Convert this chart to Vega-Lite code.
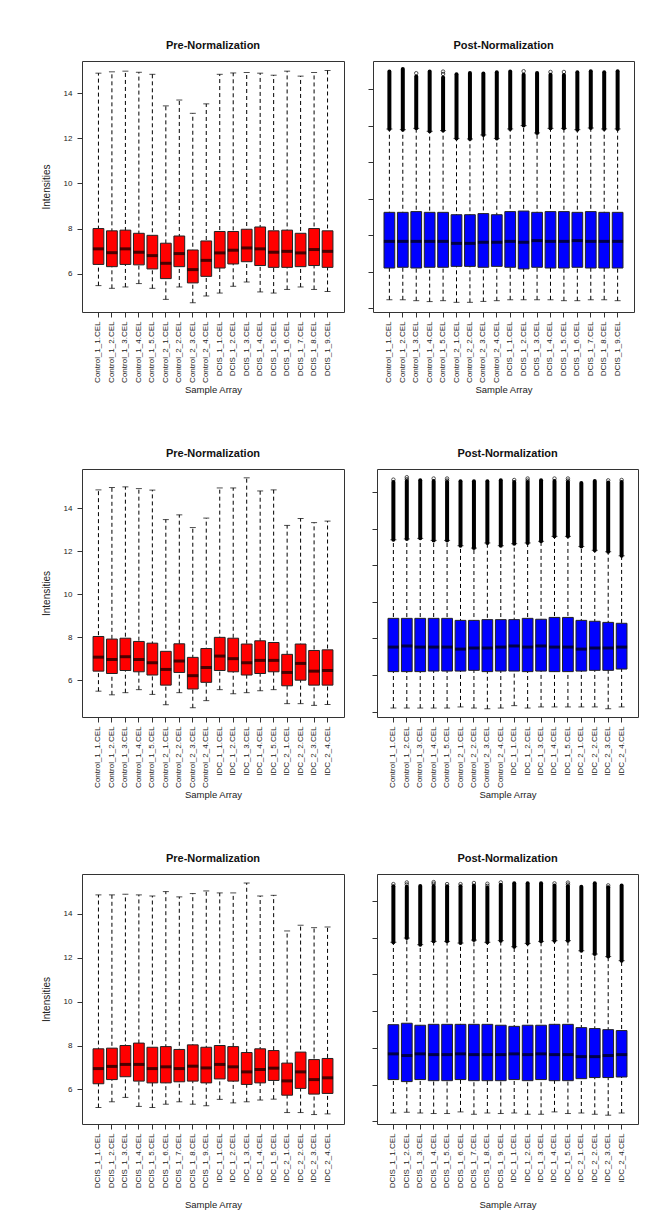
{
  "$schema": "https://vega.github.io/schema/vega-lite/v6.json",
  "padding": {"left": 40, "top": 39, "right": 0, "bottom": 0},
  "background": "white",
  "config": {
    "font": "Liberation Sans",
    "view": {"stroke": "#333", "strokeWidth": 1},
    "axis": {"grid": false, "domain": false, "tickColor": "#333", "tickSize": 5, "labelColor": "#222", "titleColor": "#222", "labelFont": "Liberation Sans", "titleFont": "Liberation Sans", "labelFontSize": 8, "titleFontSize": 9.5, "titleFontWeight": "normal"},
    "axisX": {"labelAngle": -90, "labelPadding": 4, "titlePadding": 2},
    "axisY": {"labelAngle": 0, "labelPadding": 5, "titlePadding": 12, "titleFontSize": 10},
    "title": {"fontSize": 11, "fontWeight": "bold", "offset": 10, "frame": "group", "anchor": "middle", "color": "#111", "font": "Liberation Sans"}
  },
  "datasets": {
    "pre1": [
      {"s": "Control_1_1.CEL", "lw": 5.47, "q1": 6.41, "med": 7.10, "q3": 8.00, "uw": 14.89},
      {"s": "Control_1_2.CEL", "lw": 5.35, "q1": 6.31, "med": 6.93, "q3": 7.90, "uw": 14.95},
      {"s": "Control_1_3.CEL", "lw": 5.41, "q1": 6.41, "med": 7.10, "q3": 7.93, "uw": 14.98},
      {"s": "Control_1_4.CEL", "lw": 5.56, "q1": 6.39, "med": 6.95, "q3": 7.79, "uw": 14.93},
      {"s": "Control_1_5.CEL", "lw": 5.35, "q1": 6.21, "med": 6.80, "q3": 7.70, "uw": 14.84},
      {"s": "Control_2_1.CEL", "lw": 4.86, "q1": 5.78, "med": 6.46, "q3": 7.35, "uw": 13.44},
      {"s": "Control_2_2.CEL", "lw": 5.41, "q1": 6.31, "med": 6.89, "q3": 7.67, "uw": 13.70},
      {"s": "Control_2_3.CEL", "lw": 4.71, "q1": 5.59, "med": 6.18, "q3": 7.05, "uw": 13.11},
      {"s": "Control_2_4.CEL", "lw": 5.01, "q1": 5.88, "med": 6.59, "q3": 7.45, "uw": 13.53},
      {"s": "DCIS_1_1.CEL", "lw": 5.14, "q1": 6.25, "med": 6.92, "q3": 7.87, "uw": 14.84},
      {"s": "DCIS_1_2.CEL", "lw": 5.44, "q1": 6.43, "med": 7.04, "q3": 7.87, "uw": 14.90},
      {"s": "DCIS_1_3.CEL", "lw": 5.63, "q1": 6.53, "med": 7.14, "q3": 7.97, "uw": 14.92},
      {"s": "DCIS_1_4.CEL", "lw": 5.19, "q1": 6.36, "med": 7.10, "q3": 8.07, "uw": 14.89},
      {"s": "DCIS_1_5.CEL", "lw": 5.14, "q1": 6.28, "med": 6.95, "q3": 7.90, "uw": 14.80},
      {"s": "DCIS_1_6.CEL", "lw": 5.30, "q1": 6.28, "med": 6.99, "q3": 7.93, "uw": 14.98},
      {"s": "DCIS_1_7.CEL", "lw": 5.41, "q1": 6.31, "med": 6.92, "q3": 7.79, "uw": 14.76},
      {"s": "DCIS_1_8.CEL", "lw": 5.30, "q1": 6.36, "med": 7.07, "q3": 8.00, "uw": 14.92},
      {"s": "DCIS_1_9.CEL", "lw": 5.21, "q1": 6.28, "med": 6.99, "q3": 7.90, "uw": 15.01}
    ],
    "post1": [
      {"s": "Control_1_1.CEL", "lw": 2.47, "q1": 4.21, "med": 5.67, "q3": 7.26, "uw": 11.83, "ohi": 14.97},
      {"s": "Control_1_2.CEL", "lw": 2.47, "q1": 4.25, "med": 5.67, "q3": 7.26, "uw": 11.79, "ohi": 15.11},
      {"s": "Control_1_3.CEL", "lw": 2.42, "q1": 4.21, "med": 5.67, "q3": 7.30, "uw": 11.86, "ohi": 14.70, "c1": 14.88},
      {"s": "Control_1_4.CEL", "lw": 2.37, "q1": 4.25, "med": 5.67, "q3": 7.26, "uw": 11.70, "ohi": 14.97},
      {"s": "Control_1_5.CEL", "lw": 2.42, "q1": 4.25, "med": 5.67, "q3": 7.26, "uw": 11.74, "ohi": 14.65, "c1": 14.97, "c2": 14.84},
      {"s": "Control_2_1.CEL", "lw": 2.33, "q1": 4.30, "med": 5.56, "q3": 7.13, "uw": 11.31, "ohi": 14.82},
      {"s": "Control_2_2.CEL", "lw": 2.33, "q1": 4.30, "med": 5.56, "q3": 7.13, "uw": 11.28, "ohi": 14.89},
      {"s": "Control_2_3.CEL", "lw": 2.38, "q1": 4.25, "med": 5.62, "q3": 7.19, "uw": 11.50, "ohi": 14.86},
      {"s": "Control_2_4.CEL", "lw": 2.42, "q1": 4.30, "med": 5.62, "q3": 7.13, "uw": 11.31, "ohi": 14.93},
      {"s": "DCIS_1_1.CEL", "lw": 2.47, "q1": 4.25, "med": 5.67, "q3": 7.30, "uw": 11.83, "ohi": 14.97},
      {"s": "DCIS_1_2.CEL", "lw": 2.47, "q1": 4.16, "med": 5.62, "q3": 7.33, "uw": 12.01, "ohi": 14.80, "c1": 14.99},
      {"s": "DCIS_1_3.CEL", "lw": 2.47, "q1": 4.25, "med": 5.71, "q3": 7.26, "uw": 11.61, "ohi": 14.89},
      {"s": "DCIS_1_4.CEL", "lw": 2.47, "q1": 4.21, "med": 5.67, "q3": 7.30, "uw": 11.86, "ohi": 14.80, "c1": 14.95},
      {"s": "DCIS_1_5.CEL", "lw": 2.42, "q1": 4.21, "med": 5.67, "q3": 7.30, "uw": 11.86, "ohi": 14.78, "c1": 14.95},
      {"s": "DCIS_1_6.CEL", "lw": 2.42, "q1": 4.25, "med": 5.71, "q3": 7.26, "uw": 11.79, "ohi": 14.93},
      {"s": "DCIS_1_7.CEL", "lw": 2.47, "q1": 4.21, "med": 5.67, "q3": 7.30, "uw": 11.88, "ohi": 14.99},
      {"s": "DCIS_1_8.CEL", "lw": 2.47, "q1": 4.21, "med": 5.67, "q3": 7.26, "uw": 11.83, "ohi": 14.93},
      {"s": "DCIS_1_9.CEL", "lw": 2.42, "q1": 4.21, "med": 5.67, "q3": 7.26, "uw": 11.83, "ohi": 14.99}
    ],
    "pre2": [
      {"s": "Control_1_1.CEL", "lw": 5.50, "q1": 6.43, "med": 7.08, "q3": 8.04, "uw": 14.85},
      {"s": "Control_1_2.CEL", "lw": 5.33, "q1": 6.32, "med": 6.97, "q3": 7.92, "uw": 14.96},
      {"s": "Control_1_3.CEL", "lw": 5.43, "q1": 6.46, "med": 7.10, "q3": 7.96, "uw": 14.99},
      {"s": "Control_1_4.CEL", "lw": 5.57, "q1": 6.40, "med": 6.97, "q3": 7.81, "uw": 14.91},
      {"s": "Control_1_5.CEL", "lw": 5.35, "q1": 6.25, "med": 6.82, "q3": 7.73, "uw": 14.84},
      {"s": "Control_2_1.CEL", "lw": 4.87, "q1": 5.78, "med": 6.51, "q3": 7.35, "uw": 13.47},
      {"s": "Control_2_2.CEL", "lw": 5.43, "q1": 6.37, "med": 6.90, "q3": 7.70, "uw": 13.69},
      {"s": "Control_2_3.CEL", "lw": 4.73, "q1": 5.60, "med": 6.22, "q3": 7.07, "uw": 13.10},
      {"s": "Control_2_4.CEL", "lw": 5.06, "q1": 5.91, "med": 6.60, "q3": 7.48, "uw": 13.54},
      {"s": "IDC_1_1.CEL", "lw": 5.57, "q1": 6.46, "med": 7.13, "q3": 8.00, "uw": 14.94},
      {"s": "IDC_1_2.CEL", "lw": 5.38, "q1": 6.40, "med": 7.01, "q3": 7.96, "uw": 14.94},
      {"s": "IDC_1_3.CEL", "lw": 5.43, "q1": 6.25, "med": 6.82, "q3": 7.69, "uw": 15.41},
      {"s": "IDC_1_4.CEL", "lw": 5.52, "q1": 6.32, "med": 6.93, "q3": 7.84, "uw": 14.80},
      {"s": "IDC_1_5.CEL", "lw": 5.57, "q1": 6.40, "med": 6.93, "q3": 7.76, "uw": 14.85},
      {"s": "IDC_2_1.CEL", "lw": 4.92, "q1": 5.75, "med": 6.37, "q3": 7.21, "uw": 13.20},
      {"s": "IDC_2_2.CEL", "lw": 4.92, "q1": 6.01, "med": 6.79, "q3": 7.69, "uw": 13.52},
      {"s": "IDC_2_3.CEL", "lw": 4.84, "q1": 5.78, "med": 6.43, "q3": 7.39, "uw": 13.33},
      {"s": "IDC_2_4.CEL", "lw": 4.88, "q1": 5.78, "med": 6.46, "q3": 7.42, "uw": 13.40}
    ],
    "post2": [
      {"s": "Control_1_1.CEL", "lw": 2.20, "q1": 4.19, "med": 5.53, "q3": 7.10, "uw": 11.40, "ohi": 14.55, "c1": 14.68},
      {"s": "Control_1_2.CEL", "lw": 2.20, "q1": 4.19, "med": 5.59, "q3": 7.10, "uw": 11.44, "ohi": 14.60, "c1": 14.81, "c2": 14.70},
      {"s": "Control_1_3.CEL", "lw": 2.20, "q1": 4.19, "med": 5.53, "q3": 7.10, "uw": 11.47, "ohi": 14.64},
      {"s": "Control_1_4.CEL", "lw": 2.20, "q1": 4.22, "med": 5.53, "q3": 7.10, "uw": 11.36, "ohi": 14.60, "c1": 14.74},
      {"s": "Control_1_5.CEL", "lw": 2.20, "q1": 4.22, "med": 5.53, "q3": 7.10, "uw": 11.36, "ohi": 14.55, "c1": 14.74, "c2": 14.63},
      {"s": "Control_2_1.CEL", "lw": 2.26, "q1": 4.22, "med": 5.42, "q3": 6.99, "uw": 11.07, "ohi": 14.59},
      {"s": "Control_2_2.CEL", "lw": 2.20, "q1": 4.26, "med": 5.48, "q3": 6.99, "uw": 10.94, "ohi": 14.59},
      {"s": "Control_2_3.CEL", "lw": 2.16, "q1": 4.19, "med": 5.48, "q3": 7.03, "uw": 11.22, "ohi": 14.59},
      {"s": "Control_2_4.CEL", "lw": 2.20, "q1": 4.22, "med": 5.53, "q3": 7.03, "uw": 11.07, "ohi": 14.64},
      {"s": "IDC_1_1.CEL", "lw": 2.33, "q1": 4.22, "med": 5.59, "q3": 7.03, "uw": 11.18, "ohi": 14.55, "c1": 14.66},
      {"s": "IDC_1_2.CEL", "lw": 2.20, "q1": 4.19, "med": 5.53, "q3": 7.10, "uw": 11.22, "ohi": 14.55, "c1": 14.74, "c2": 14.63},
      {"s": "IDC_1_3.CEL", "lw": 2.26, "q1": 4.22, "med": 5.59, "q3": 7.05, "uw": 11.31, "ohi": 14.64},
      {"s": "IDC_1_4.CEL", "lw": 2.26, "q1": 4.19, "med": 5.53, "q3": 7.15, "uw": 11.58, "ohi": 14.60, "c1": 14.74},
      {"s": "IDC_1_5.CEL", "lw": 2.26, "q1": 4.19, "med": 5.53, "q3": 7.15, "uw": 11.58, "ohi": 14.55, "c1": 14.74, "c2": 14.63},
      {"s": "IDC_2_1.CEL", "lw": 2.26, "q1": 4.22, "med": 5.42, "q3": 6.99, "uw": 11.03, "ohi": 14.50},
      {"s": "IDC_2_2.CEL", "lw": 2.26, "q1": 4.26, "med": 5.48, "q3": 6.94, "uw": 10.82, "ohi": 14.61},
      {"s": "IDC_2_3.CEL", "lw": 2.16, "q1": 4.26, "med": 5.48, "q3": 6.88, "uw": 10.74, "ohi": 14.52, "c1": 14.64},
      {"s": "IDC_2_4.CEL", "lw": 2.26, "q1": 4.33, "med": 5.53, "q3": 6.83, "uw": 10.52, "ohi": 14.55, "c1": 14.66}
    ],
    "pre3": [
      {"s": "DCIS_1_1.CEL", "lw": 5.18, "q1": 6.26, "med": 6.95, "q3": 7.85, "uw": 14.85},
      {"s": "DCIS_1_2.CEL", "lw": 5.44, "q1": 6.45, "med": 7.05, "q3": 7.88, "uw": 14.85},
      {"s": "DCIS_1_3.CEL", "lw": 5.64, "q1": 6.58, "med": 7.14, "q3": 8.00, "uw": 14.88},
      {"s": "DCIS_1_4.CEL", "lw": 5.23, "q1": 6.38, "med": 7.14, "q3": 8.11, "uw": 14.85},
      {"s": "DCIS_1_5.CEL", "lw": 5.18, "q1": 6.30, "med": 6.95, "q3": 7.92, "uw": 14.80},
      {"s": "DCIS_1_6.CEL", "lw": 5.33, "q1": 6.30, "med": 7.03, "q3": 7.95, "uw": 15.00},
      {"s": "DCIS_1_7.CEL", "lw": 5.44, "q1": 6.35, "med": 6.95, "q3": 7.82, "uw": 14.76},
      {"s": "DCIS_1_8.CEL", "lw": 5.33, "q1": 6.38, "med": 7.06, "q3": 8.03, "uw": 14.91},
      {"s": "DCIS_1_9.CEL", "lw": 5.26, "q1": 6.30, "med": 6.98, "q3": 7.92, "uw": 15.03},
      {"s": "IDC_1_1.CEL", "lw": 5.55, "q1": 6.48, "med": 7.14, "q3": 8.00, "uw": 14.94},
      {"s": "IDC_1_2.CEL", "lw": 5.39, "q1": 6.38, "med": 7.03, "q3": 7.95, "uw": 14.94},
      {"s": "IDC_1_3.CEL", "lw": 5.44, "q1": 6.23, "med": 6.80, "q3": 7.68, "uw": 15.39},
      {"s": "IDC_1_4.CEL", "lw": 5.52, "q1": 6.30, "med": 6.91, "q3": 7.85, "uw": 14.80},
      {"s": "IDC_1_5.CEL", "lw": 5.56, "q1": 6.41, "med": 6.97, "q3": 7.77, "uw": 14.83},
      {"s": "IDC_2_1.CEL", "lw": 4.95, "q1": 5.74, "med": 6.39, "q3": 7.20, "uw": 13.21},
      {"s": "IDC_2_2.CEL", "lw": 4.95, "q1": 6.05, "med": 6.80, "q3": 7.70, "uw": 13.47},
      {"s": "IDC_2_3.CEL", "lw": 4.86, "q1": 5.79, "med": 6.45, "q3": 7.36, "uw": 13.36},
      {"s": "IDC_2_4.CEL", "lw": 4.89, "q1": 5.82, "med": 6.53, "q3": 7.41, "uw": 13.39}
    ],
    "post3": [
      {"s": "DCIS_1_1.CEL", "lw": 2.45, "q1": 4.27, "med": 5.67, "q3": 7.26, "uw": 11.75, "ohi": 14.80, "c1": 14.92},
      {"s": "DCIS_1_2.CEL", "lw": 2.49, "q1": 4.16, "med": 5.58, "q3": 7.34, "uw": 11.98, "ohi": 14.78, "c1": 15.01, "c2": 14.90},
      {"s": "DCIS_1_3.CEL", "lw": 2.45, "q1": 4.27, "med": 5.67, "q3": 7.23, "uw": 11.62, "ohi": 14.81},
      {"s": "DCIS_1_4.CEL", "lw": 2.42, "q1": 4.21, "med": 5.63, "q3": 7.28, "uw": 11.80, "ohi": 14.82, "c1": 15.03, "c2": 14.94},
      {"s": "DCIS_1_5.CEL", "lw": 2.42, "q1": 4.21, "med": 5.63, "q3": 7.28, "uw": 11.80, "ohi": 14.80, "c1": 14.92},
      {"s": "DCIS_1_6.CEL", "lw": 2.51, "q1": 4.27, "med": 5.67, "q3": 7.28, "uw": 11.71, "ohi": 14.80, "c1": 14.92},
      {"s": "DCIS_1_7.CEL", "lw": 2.38, "q1": 4.21, "med": 5.63, "q3": 7.28, "uw": 11.87, "ohi": 14.85, "c1": 14.98},
      {"s": "DCIS_1_8.CEL", "lw": 2.45, "q1": 4.21, "med": 5.63, "q3": 7.28, "uw": 11.75, "ohi": 14.72, "c1": 14.94, "c2": 14.82},
      {"s": "DCIS_1_9.CEL", "lw": 2.42, "q1": 4.21, "med": 5.63, "q3": 7.23, "uw": 11.84, "ohi": 14.88, "c1": 15.01},
      {"s": "IDC_1_1.CEL", "lw": 2.45, "q1": 4.27, "med": 5.67, "q3": 7.17, "uw": 11.51, "ohi": 14.96},
      {"s": "IDC_1_2.CEL", "lw": 2.38, "q1": 4.21, "med": 5.63, "q3": 7.23, "uw": 11.69, "ohi": 14.96},
      {"s": "IDC_1_3.CEL", "lw": 2.38, "q1": 4.27, "med": 5.67, "q3": 7.23, "uw": 11.80, "ohi": 14.96},
      {"s": "IDC_1_4.CEL", "lw": 2.51, "q1": 4.21, "med": 5.63, "q3": 7.28, "uw": 11.84, "ohi": 14.84, "c1": 14.96},
      {"s": "IDC_1_5.CEL", "lw": 2.42, "q1": 4.21, "med": 5.63, "q3": 7.28, "uw": 11.84, "ohi": 14.80, "c1": 15.00, "c2": 14.90},
      {"s": "IDC_2_1.CEL", "lw": 2.45, "q1": 4.32, "med": 5.52, "q3": 7.10, "uw": 11.29, "ohi": 14.78},
      {"s": "IDC_2_2.CEL", "lw": 2.38, "q1": 4.38, "med": 5.52, "q3": 7.05, "uw": 11.11, "ohi": 14.96},
      {"s": "IDC_2_3.CEL", "lw": 2.33, "q1": 4.38, "med": 5.58, "q3": 6.99, "uw": 10.97, "ohi": 14.72, "c1": 14.85, "c2": 14.75},
      {"s": "IDC_2_4.CEL", "lw": 2.45, "q1": 4.41, "med": 5.63, "q3": 6.94, "uw": 10.75, "ohi": 14.85}
    ]
  },
  "spacing": 52,
  "vconcat": [
    {
      "spacing": 22,
      "hconcat": [
        {
          "width": 262, "height": 251,
          "title": {"text": "Pre-Normalization"},
          "data": {"name": "pre1"},
          "encoding": {"x": {"field": "s", "type": "nominal", "sort": null, "scale": {"paddingInner": 0.2, "paddingOuter": 0.82}, "axis": {"title": "Sample Array"}}},
          "layer": [
            {"mark": {"type": "rule", "color": "black", "strokeWidth": 1, "strokeDash": [4, 3]}, "encoding": {"y": {"field": "lw", "type": "quantitative", "scale": {"domain": [4.30, 15.43], "nice": false, "zero": false}, "axis": {"title": "Intensities", "values": [6, 8, 10, 12, 14]}}, "y2": {"field": "uw"}}},
            {"mark": {"type": "tick", "color": "black", "size": 6, "thickness": 1}, "encoding": {"y": {"field": "lw", "type": "quantitative"}}},
            {"mark": {"type": "tick", "color": "black", "size": 6, "thickness": 1}, "encoding": {"y": {"field": "uw", "type": "quantitative"}}},
            {"mark": {"type": "bar", "fill": "#FF0000", "stroke": "#222", "strokeWidth": 1}, "encoding": {"y": {"field": "q1", "type": "quantitative"}, "y2": {"field": "q3"}}},
            {"mark": {"type": "tick", "color": "black", "size": 11, "thickness": 3}, "encoding": {"y": {"field": "med", "type": "quantitative"}}}
          ]
        },
        {
          "width": 261, "height": 251,
          "title": {"text": "Post-Normalization"},
          "data": {"name": "post1"},
          "encoding": {"x": {"field": "s", "type": "nominal", "sort": null, "scale": {"paddingInner": 0.2, "paddingOuter": 0.82}, "axis": {"title": "Sample Array"}}},
          "layer": [
            {"mark": {"type": "rule", "color": "black", "strokeWidth": 1, "strokeDash": [4, 3]}, "encoding": {"y": {"field": "lw", "type": "quantitative", "scale": {"domain": [1.80, 15.55], "nice": false, "zero": false}, "axis": {"title": null, "labels": false, "values": [2, 4, 6, 8, 10, 12, 14]}}, "y2": {"field": "uw"}}},
            {"mark": {"type": "tick", "color": "black", "size": 6, "thickness": 1}, "encoding": {"y": {"field": "lw", "type": "quantitative"}}},
            {"mark": {"type": "tick", "color": "black", "size": 6, "thickness": 1}, "encoding": {"y": {"field": "uw", "type": "quantitative"}}},
            {"mark": {"type": "rule", "color": "black", "strokeWidth": 4, "strokeCap": "round"}, "encoding": {"y": {"field": "uw", "type": "quantitative"}, "y2": {"field": "ohi"}}},
            {"mark": {"type": "point", "shape": "circle", "filled": false, "color": "black", "size": 12, "strokeWidth": 1}, "encoding": {"y": {"field": "c1", "type": "quantitative"}}},
            {"mark": {"type": "point", "shape": "circle", "filled": false, "color": "black", "size": 12, "strokeWidth": 1}, "encoding": {"y": {"field": "c2", "type": "quantitative"}}},
            {"mark": {"type": "bar", "fill": "#0000FF", "stroke": "#222", "strokeWidth": 1}, "encoding": {"y": {"field": "q1", "type": "quantitative"}, "y2": {"field": "q3"}}},
            {"mark": {"type": "tick", "color": "black", "size": 11, "thickness": 3}, "encoding": {"y": {"field": "med", "type": "quantitative"}}}
          ]
        }
      ]
    },
    {
      "spacing": 26,
      "hconcat": [
        {
          "width": 262, "height": 248,
          "title": {"text": "Pre-Normalization"},
          "data": {"name": "pre2"},
          "encoding": {"x": {"field": "s", "type": "nominal", "sort": null, "scale": {"paddingInner": 0.2, "paddingOuter": 0.82}, "axis": {"title": "Sample Array"}}},
          "layer": [
            {"mark": {"type": "rule", "color": "black", "strokeWidth": 1, "strokeDash": [4, 3]}, "encoding": {"y": {"field": "lw", "type": "quantitative", "scale": {"domain": [4.30, 15.82], "nice": false, "zero": false}, "axis": {"title": "Intensities", "values": [6, 8, 10, 12, 14]}}, "y2": {"field": "uw"}}},
            {"mark": {"type": "tick", "color": "black", "size": 6, "thickness": 1}, "encoding": {"y": {"field": "lw", "type": "quantitative"}}},
            {"mark": {"type": "tick", "color": "black", "size": 6, "thickness": 1}, "encoding": {"y": {"field": "uw", "type": "quantitative"}}},
            {"mark": {"type": "bar", "fill": "#FF0000", "stroke": "#222", "strokeWidth": 1}, "encoding": {"y": {"field": "q1", "type": "quantitative"}, "y2": {"field": "q3"}}},
            {"mark": {"type": "tick", "color": "black", "size": 11, "thickness": 3}, "encoding": {"y": {"field": "med", "type": "quantitative"}}}
          ]
        },
        {
          "width": 261, "height": 248,
          "title": {"text": "Post-Normalization"},
          "data": {"name": "post2"},
          "encoding": {"x": {"field": "s", "type": "nominal", "sort": null, "scale": {"paddingInner": 0.2, "paddingOuter": 0.82}, "axis": {"title": "Sample Array"}}},
          "layer": [
            {"mark": {"type": "rule", "color": "black", "strokeWidth": 1, "strokeDash": [4, 3]}, "encoding": {"y": {"field": "lw", "type": "quantitative", "scale": {"domain": [1.71, 15.26], "nice": false, "zero": false}, "axis": {"title": null, "labels": false, "values": [2, 4, 6, 8, 10, 12, 14]}}, "y2": {"field": "uw"}}},
            {"mark": {"type": "tick", "color": "black", "size": 6, "thickness": 1}, "encoding": {"y": {"field": "lw", "type": "quantitative"}}},
            {"mark": {"type": "tick", "color": "black", "size": 6, "thickness": 1}, "encoding": {"y": {"field": "uw", "type": "quantitative"}}},
            {"mark": {"type": "rule", "color": "black", "strokeWidth": 4, "strokeCap": "round"}, "encoding": {"y": {"field": "uw", "type": "quantitative"}, "y2": {"field": "ohi"}}},
            {"mark": {"type": "point", "shape": "circle", "filled": false, "color": "black", "size": 12, "strokeWidth": 1}, "encoding": {"y": {"field": "c1", "type": "quantitative"}}},
            {"mark": {"type": "point", "shape": "circle", "filled": false, "color": "black", "size": 12, "strokeWidth": 1}, "encoding": {"y": {"field": "c2", "type": "quantitative"}}},
            {"mark": {"type": "bar", "fill": "#0000FF", "stroke": "#222", "strokeWidth": 1}, "encoding": {"y": {"field": "q1", "type": "quantitative"}, "y2": {"field": "q3"}}},
            {"mark": {"type": "tick", "color": "black", "size": 11, "thickness": 3}, "encoding": {"y": {"field": "med", "type": "quantitative"}}}
          ]
        }
      ]
    },
    {
      "spacing": 26,
      "hconcat": [
        {
          "width": 262, "height": 250,
          "title": {"text": "Pre-Normalization"},
          "data": {"name": "pre3"},
          "encoding": {"x": {"field": "s", "type": "nominal", "sort": null, "scale": {"paddingInner": 0.2, "paddingOuter": 0.82}, "axis": {"title": "Sample Array", "titlePadding": 12}}},
          "layer": [
            {"mark": {"type": "rule", "color": "black", "strokeWidth": 1, "strokeDash": [4, 3]}, "encoding": {"y": {"field": "lw", "type": "quantitative", "scale": {"domain": [4.43, 15.80], "nice": false, "zero": false}, "axis": {"title": "Intensities", "values": [6, 8, 10, 12, 14]}}, "y2": {"field": "uw"}}},
            {"mark": {"type": "tick", "color": "black", "size": 6, "thickness": 1}, "encoding": {"y": {"field": "lw", "type": "quantitative"}}},
            {"mark": {"type": "tick", "color": "black", "size": 6, "thickness": 1}, "encoding": {"y": {"field": "uw", "type": "quantitative"}}},
            {"mark": {"type": "bar", "fill": "#FF0000", "stroke": "#222", "strokeWidth": 1}, "encoding": {"y": {"field": "q1", "type": "quantitative"}, "y2": {"field": "q3"}}},
            {"mark": {"type": "tick", "color": "black", "size": 11, "thickness": 3}, "encoding": {"y": {"field": "med", "type": "quantitative"}}}
          ]
        },
        {
          "width": 261, "height": 250,
          "title": {"text": "Post-Normalization"},
          "data": {"name": "post3"},
          "encoding": {"x": {"field": "s", "type": "nominal", "sort": null, "scale": {"paddingInner": 0.2, "paddingOuter": 0.82}, "axis": {"title": "Sample Array", "titlePadding": 12}}},
          "layer": [
            {"mark": {"type": "rule", "color": "black", "strokeWidth": 1, "strokeDash": [4, 3]}, "encoding": {"y": {"field": "lw", "type": "quantitative", "scale": {"domain": [1.85, 15.47], "nice": false, "zero": false}, "axis": {"title": null, "labels": false, "values": [2, 4, 6, 8, 10, 12, 14]}}, "y2": {"field": "uw"}}},
            {"mark": {"type": "tick", "color": "black", "size": 6, "thickness": 1}, "encoding": {"y": {"field": "lw", "type": "quantitative"}}},
            {"mark": {"type": "tick", "color": "black", "size": 6, "thickness": 1}, "encoding": {"y": {"field": "uw", "type": "quantitative"}}},
            {"mark": {"type": "rule", "color": "black", "strokeWidth": 4, "strokeCap": "round"}, "encoding": {"y": {"field": "uw", "type": "quantitative"}, "y2": {"field": "ohi"}}},
            {"mark": {"type": "point", "shape": "circle", "filled": false, "color": "black", "size": 12, "strokeWidth": 1}, "encoding": {"y": {"field": "c1", "type": "quantitative"}}},
            {"mark": {"type": "point", "shape": "circle", "filled": false, "color": "black", "size": 12, "strokeWidth": 1}, "encoding": {"y": {"field": "c2", "type": "quantitative"}}},
            {"mark": {"type": "bar", "fill": "#0000FF", "stroke": "#222", "strokeWidth": 1}, "encoding": {"y": {"field": "q1", "type": "quantitative"}, "y2": {"field": "q3"}}},
            {"mark": {"type": "tick", "color": "black", "size": 11, "thickness": 3}, "encoding": {"y": {"field": "med", "type": "quantitative"}}}
          ]
        }
      ]
    }
  ]
}
